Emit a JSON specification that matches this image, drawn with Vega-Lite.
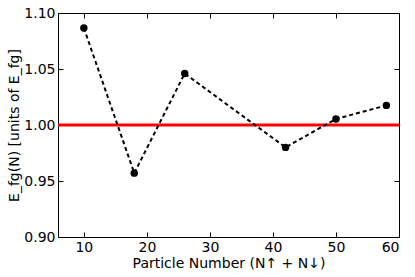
{
  "$schema": "https://vega.github.io/schema/vega-lite/v6.json",
  "width": 341,
  "height": 224,
  "autosize": "none",
  "padding": {"left": 58, "top": 13, "right": 16, "bottom": 40},
  "config": {
    "view": {"stroke": "#000", "strokeWidth": 1},
    "font": "DejaVu Sans",
    "axis": {"grid": false, "domain": false, "tickColor": "#000", "tickSize": -5, "labelColor": "#000", "labelFont": "DejaVu Sans", "labelFontSize": 14, "titleFont": "DejaVu Sans", "titleFontSize": 14, "titleFontWeight": "normal", "titleColor": "#000"}
  },
  "data": {"values": [
    {"n": 10, "e": 1.0866},
    {"n": 18, "e": 0.957},
    {"n": 26, "e": 1.046},
    {"n": 42, "e": 0.98},
    {"n": 50, "e": 1.0054},
    {"n": 58, "e": 1.0175}
  ]},
  "layer": [
    {
      "mark": {"type": "rule", "color": "#ff0000", "strokeWidth": 3},
      "data": {"values": [{"y": 1.0}]},
      "encoding": {"y": {"field": "y", "type": "quantitative", "scale": {"domain": [0.9, 1.1]}, "axis": null}}
    },
    {
      "mark": {"type": "line", "color": "#000", "strokeWidth": 2, "strokeDash": [4, 3]},
      "encoding": {
        "x": {"field": "n", "type": "quantitative", "scale": {"domain": [5.9, 60], "nice": false, "zero": false},
          "axis": {"orient": "top", "values": [10, 20, 30, 40, 50, 60], "labels": false, "title": null}},
        "y": {"field": "e", "type": "quantitative", "scale": {"domain": [0.9, 1.1], "nice": false, "zero": false},
          "axis": {"orient": "right", "values": [0.9, 0.95, 1.0, 1.05, 1.1], "labels": false, "title": null}}
      }
    },
    {
      "mark": {"type": "point", "filled": true, "color": "#000", "size": 55, "opacity": 1},
      "encoding": {
        "x": {"field": "n", "type": "quantitative", "scale": {"domain": [5.9, 60], "nice": false, "zero": false},
          "axis": {"orient": "bottom", "values": [10, 20, 30, 40, 50, 60], "labelPadding": 8, "title": "Particle Number (N↑ + N↓)", "titlePadding": 2}},
        "y": {"field": "e", "type": "quantitative", "scale": {"domain": [0.9, 1.1], "nice": false, "zero": false},
          "axis": {"orient": "left", "values": [0.9, 0.95, 1.0, 1.05, 1.1], "format": ".2f", "labelPadding": 8, "title": "E_fg(N) [units of E_fg]", "titlePadding": 2}}
      }
    }
  ],
  "resolve": {"axis": {"x": "independent", "y": "independent"}}
}
